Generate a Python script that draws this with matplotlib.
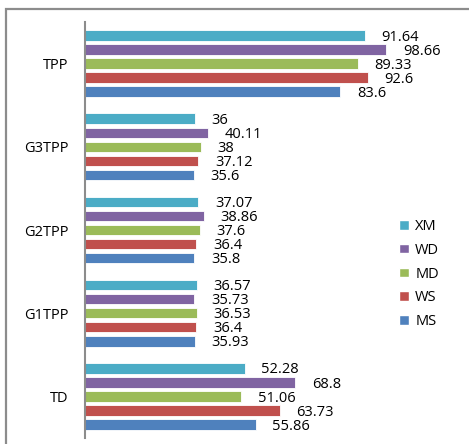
import matplotlib
matplotlib.use("Agg")
import matplotlib.pyplot as plt
from matplotlib.patches import Rectangle, Patch
import numpy as np

categories = ["TPP", "G3TPP", "G2TPP", "G1TPP", "TD"]
series = ["XM", "WD", "MD", "WS", "MS"]
XM = [91.64, 36, 37.07, 36.57, 52.28]
WD = [98.66, 40.11, 38.86, 35.73, 68.8]
MD = [89.33, 38, 37.6, 36.53, 51.06]
WS = [92.6, 37.12, 36.4, 36.4, 63.73]
MS = [83.6, 35.6, 35.8, 35.93, 55.86]
labels = {
    "XM": ["91.64", "36", "37.07", "36.57", "52.28"],
    "WD": ["98.66", "40.11", "38.86", "35.73", "68.8"],
    "MD": ["89.33", "38", "37.6", "36.53", "51.06"],
    "WS": ["92.6", "37.12", "36.4", "36.4", "63.73"],
    "MS": ["83.6", "35.6", "35.8", "35.93", "55.86"],
}
values = {"XM": XM, "WD": WD, "MD": MD, "WS": WS, "MS": MS}
colors = {"XM": "#4BACC6", "WD": "#8064A2", "MD": "#9BBB59", "WS": "#C0504D", "MS": "#4F81BD"}

plt.rcParams['font.family'] = ['Open Sans', 'DejaVu Sans']

W, H = 469, 444
fig = plt.figure(figsize=(W / 100, H / 100), dpi=100)
ax = fig.add_axes([85 / W, 1 - 438 / H, 305.5 / W, 416 / H])

pitch = 14 / 83
bh = 10.5 / 83
y = np.arange(len(categories))
for j, s in enumerate(series):
    pos = y + (j - 2) * pitch
    ax.barh(pos, values[s], height=bh, color=colors[s], edgecolor="white", linewidth=0.6)
    for p, v, t in zip(pos, values[s], labels[s]):
        ax.annotate(t, (v, p), xytext=(12, -1.2), textcoords="offset points",
                    ha="left", va="center", fontsize=10.5, color="black")

ax.set_xlim(0, 100)
ax.set_ylim(len(categories) - 0.5, -0.5)
ax.set_yticks(y)
ax.set_yticklabels(categories, fontsize=10.5)
ax.tick_params(axis="y", length=0, pad=12)
ax.set_xticks([])
for sp in ["top", "right", "bottom"]:
    ax.spines[sp].set_visible(False)
ax.spines["left"].set_color("#8c8c8c")
ax.spines["left"].set_linewidth(1.5)

handles = [Patch(facecolor=colors[s], edgecolor="white", label=s) for s in series]
fig.legend(handles=handles, loc="center left", bbox_to_anchor=(386 / W, 1 - 274 / H),
           frameon=False, fontsize=10.5, handlelength=0.65, handleheight=0.65,
           handletextpad=0.45, labelspacing=0.6)

fig.add_artist(Rectangle((5.5 / W, -0.1), 1.2, 1.1 - 9.5 / H + 0.0, transform=fig.transFigure,
                         fill=False, edgecolor="#8c8c8c", linewidth=1.6))

fig.savefig("out.png", dpi=100)
